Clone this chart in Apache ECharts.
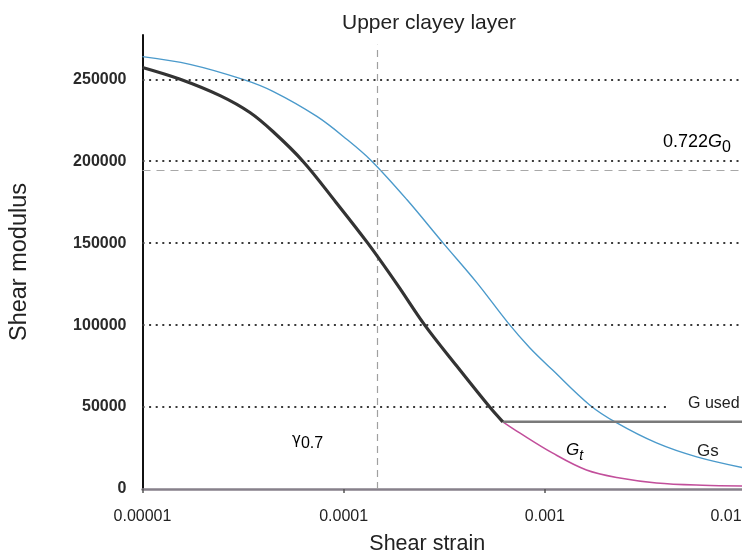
<!DOCTYPE html>
<html>
<head>
<meta charset="utf-8">
<title>Upper clayey layer</title>
<script src="https://cdn.jsdelivr.net/npm/echarts@6/dist/echarts.min.js"></script>
<style>
  html, body { margin: 0; padding: 0; background: #ffffff; }
  #chart { width: 742px; height: 556px; }
</style>
</head>
<body>
<div id="chart"></div>
<script>
// Axis ticks
const strainTicks = [0.00001, 0.0001, 0.001, 0.01];
const strainTickLabels = ['0.00001', '0.0001', '0.001', '0.01'];
const modulusTicks = [0, 50000, 100000, 150000, 200000, 250000];

// Secant modulus Gs
const gsStrain = [0.00001, 0.0000172, 0.0000316, 0.0000445, 0.0000736, 0.000104, 0.000138,
  0.000206, 0.000311, 0.000459, 0.000655, 0.000841, 0.00109, 0.00167, 0.00228, 0.00359, 0.00569, 0.01];
const gsModulus = [263800, 259100, 249900, 242600, 227300, 213200, 200000,
  176600, 150300, 125900, 101500, 86200, 72700, 51300, 40300, 28100, 19600, 12600];

// Tangent modulus Gt (upper part, used as G)
const gtStrain = [0.00001, 0.0000154, 0.0000243, 0.0000342, 0.0000445, 0.0000627, 0.0000915,
  0.0001318, 0.000184, 0.000253, 0.000365, 0.000532, 0.000618];
const gtModulus = [257200, 250000, 240000, 229700, 218100, 200000, 175000,
  150000, 125000, 100000, 75000, 50000, 41000];

// Tangent modulus Gt beyond the floor
const gtTailStrain = [0.000618, 0.00075, 0.00109, 0.00161, 0.00236, 0.00359, 0.00608, 0.01];
const gtTailModulus = [41000, 34200, 22000, 11600, 6700, 3700, 2300, 1800];

// Floor of the modulus used
const gUsedFloorStrain = [0.000618, 0.01];
const gUsedFloorModulus = [41000, 41000];

// Reference lines
const g0 = 269000;
const ratio07 = 0.722;
const gamma07 = 0.000147;
const dottedLevels = [100000, 150000, 200000, 250000];
const gUsedDottedLevel = 50000;
const gUsedDottedEnd = 0.004;

const pairs = (xs, ys) => xs.map((x, i) => [x, ys[i]]);

const chart = echarts.init(document.getElementById('chart'), null, { renderer: 'canvas' });

const dotStyle = { type: [2, 4.6], color: '#3a3a3a', width: 2 };

const option = {
  backgroundColor: '#ffffff',
  animation: false,
  title: {
    text: 'Upper clayey layer',
    left: 337,
    top: 8,
    textStyle: { fontFamily: 'Liberation Sans', fontSize: 21, fontWeight: 'normal', color: '#222' }
  },
  grid: { left: 142.5, right: -4, top: 35, bottom: 67, outerBoundsMode: 'none' },
  xAxis: {
    type: 'log',
    logBase: 10,
    min: strainTicks[0],
    max: strainTicks[strainTicks.length - 1],
    name: 'Shear strain',
    nameLocation: 'middle',
    nameGap: 44,
    nameTextStyle: { fontFamily: 'Liberation Sans', fontSize: 21.5, color: '#222', padding: [0, 34, 0, 0] },
    axisLine: { lineStyle: { color: '#86808a', width: 2.5 } },
    axisTick: { show: true, length: 4, lineStyle: { color: '#555', width: 1.5 } },
    axisLabel: {
      margin: 20,
      fontFamily: 'Liberation Sans',
      fontSize: 16,
      color: '#222',
      formatter: v => {
        const i = strainTicks.findIndex(t => Math.abs(Math.log10(t) - Math.log10(v)) < 1e-6);
        if (i < 0) return '';
        return i === strainTicks.length - 1 ? '{m|' + strainTickLabels[i] + '}' : strainTickLabels[i];
      },
      rich: { m: { fontFamily: 'Liberation Sans', fontSize: 16, color: '#222', padding: [0, 40, 0, 0] } }
    },
    splitLine: { show: false },
    minorTick: { show: false }
  },
  yAxis: {
    type: 'value',
    min: 0,
    max: 277000,
    interval: 50000,
    name: 'Shear modulus',
    nameLocation: 'middle',
    nameGap: 111,
    nameRotate: 90,
    nameTextStyle: { fontFamily: 'Liberation Sans', fontSize: 23.5, color: '#222' },
    axisLine: { show: true, lineStyle: { color: '#111', width: 2 } },
    axisTick: { show: false },
    axisLabel: {
      margin: 16,
      showMaxLabel: false,
      fontFamily: 'Liberation Sans',
      fontSize: 16,
      fontWeight: 'bold',
      color: '#2a2a2a',
      formatter: v => (modulusTicks.indexOf(v) >= 0 ? String(v) : '')
    },
    splitLine: { show: false }
  },
  series: [
    {
      name: 'Gs',
      type: 'line',
      data: pairs(gsStrain, gsModulus),
      showSymbol: false,
      smooth: 0.35,
      lineStyle: { color: '#4b9acb', width: 1.4 },
      z: 3,
      markLine: {
        silent: true,
        symbol: 'none',
        label: { show: false },
        data: [
          ...dottedLevels.map(v => ({ yAxis: v, lineStyle: dotStyle })),
          [
            { coord: [strainTicks[0], gUsedDottedLevel], lineStyle: dotStyle },
            { coord: [gUsedDottedEnd, gUsedDottedLevel] }
          ],
          { yAxis: Math.round(ratio07 * g0), lineStyle: { type: [8, 6], color: '#a8a8a8', width: 1.2 } },
          [
            { coord: [gamma07, 0], lineStyle: { type: [7, 5], color: '#a0a0a0', width: 1.2 } },
            { coord: [gamma07, 271000] }
          ]
        ]
      }
    },
    {
      name: 'Gt',
      type: 'line',
      data: pairs(gtTailStrain, gtTailModulus),
      showSymbol: false,
      smooth: 0.35,
      lineStyle: { color: '#c24f9b', width: 1.5 },
      z: 2
    },
    {
      name: 'G used floor',
      type: 'line',
      data: pairs(gUsedFloorStrain, gUsedFloorModulus),
      showSymbol: false,
      lineStyle: { color: '#7a7a7a', width: 2.6 },
      z: 4
    },
    {
      name: 'G used',
      type: 'line',
      data: pairs(gtStrain, gtModulus),
      showSymbol: false,
      smooth: 0.35,
      lineStyle: { color: '#333333', width: 3.2, join: 'round' },
      z: 5
    }
  ],
  graphic: [
    {
      type: 'text', left: 663, top: 133,
      style: {
        text: '{a|0.722}{g|G}{s|0}',
        rich: {
          a: { fontFamily: 'Liberation Sans', fontSize: 18, color: '#222', verticalAlign: 'top', lineHeight: 20 },
          g: { fontFamily: 'Liberation Sans', fontSize: 18, fontStyle: 'italic', color: '#222', verticalAlign: 'top', lineHeight: 20 },
          s: { fontFamily: 'Liberation Sans', fontSize: 16, color: '#222', verticalAlign: 'top', lineHeight: 20, padding: [7, 0, 0, 0] }
        }
      }
    },
    {
      type: 'text', left: 688, top: 396,
      style: { text: 'G used', fontFamily: 'Liberation Sans', fontSize: 16, fill: '#222' }
    },
    {
      type: 'text', left: 697, top: 443,
      style: { text: 'Gs', fontFamily: 'Liberation Sans', fontSize: 17, fill: '#222' }
    },
    {
      type: 'text', left: 566, top: 442,
      style: {
        text: '{g|G}{s|t}',
        rich: {
          g: { fontFamily: 'Liberation Sans', fontSize: 17, fontStyle: 'italic', color: '#222', verticalAlign: 'top', lineHeight: 19 },
          s: { fontFamily: 'Liberation Sans', fontSize: 14, fontStyle: 'italic', color: '#222', verticalAlign: 'top', lineHeight: 19, padding: [7, 0, 0, 0] }
        }
      }
    },
    {
      type: 'text', left: 292, top: 433,
      style: {
        text: '{g|\u03b3}{s|0.7}',
        rich: {
          g: { fontFamily: 'DejaVu Sans', fontSize: 15, color: '#222', verticalAlign: 'top', lineHeight: 18 },
          s: { fontFamily: 'Liberation Sans', fontSize: 16, color: '#222', verticalAlign: 'top', lineHeight: 18, padding: [3, 0, 0, 0] }
        }
      }
    }
  ]
};

chart.setOption(option);
</script>
</body>
</html>
